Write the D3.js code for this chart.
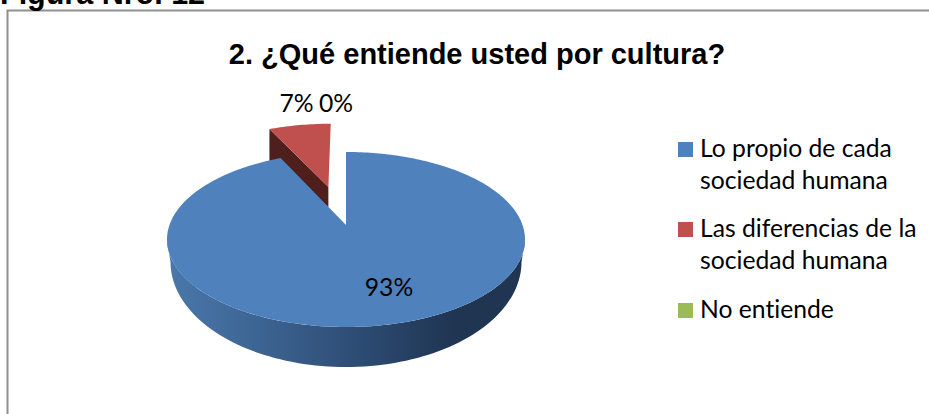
<!DOCTYPE html>
<html><head><meta charset="utf-8">
<script src="https://cdn.jsdelivr.net/npm/d3@7"></script>
<style>html,body{margin:0;padding:0;background:#fff;overflow:hidden}svg{display:block}text{font-variant-ligatures:none}</style>
</head><body><svg id="c" width="929" height="414"></svg>
<script>
const figureLabel = "Figura Nro. 12";
const chartTitle = "2. ¿Qué entiende usted por cultura?";
const categories = ["Lo propio de cada sociedad humana","Las diferencias de la sociedad humana","No entiende"];
const legendLines = [["Lo propio de cada","sociedad humana"],["Las diferencias de la","sociedad humana"],["No entiende"]];
const values = [93,7,0];
const sliceColors = ["#4f81bd","#c0504d","#9bbb59"];
const sliceExplode = [0,0.494,0.494];

const svg = d3.select("#c");
const defs = svg.append("defs");
const grad = defs.append("linearGradient").attr("id","side").attr("x1","0").attr("x2","1").attr("y1","0").attr("y2","0");
[[0,"#4a78ab"],[0.25,"#3d6593"],[0.5,"#2f4f78"],[0.8,"#1f3552"],[1,"#1f3552"]].forEach(s=>grad.append("stop").attr("offset",s[0]).attr("stop-color",s[1]));

// frame
svg.append("path").attr("d","M7.5,414V10.5H929").attr("fill","none").attr("stroke","#909090").attr("stroke-width",2);
svg.append("text").attr("x",0).attr("y",4).attr("font-family","Liberation Sans").attr("font-weight","bold").attr("font-size",30.5).attr("fill","#000").text(figureLabel);
svg.append("text").attr("x",477).attr("y",64).attr("text-anchor","middle").attr("font-family","Liberation Sans").attr("font-weight","bold").attr("font-size",29).attr("fill","#000").text(chartTitle);

// projection of the pie disk
const top3 = {cx:346,cy:239.5,rx:179,ry:87.5,t:0.166};
const low3 = {cx:346,cy:262,rx:175.5,ry:105};
const sc = Math.sqrt(1-top3.t*top3.t);
function proj(u,v){const d=1+top3.t*v;return [top3.cx+top3.rx*u*sc/d, top3.cy-top3.ry*(v+top3.t)/d];}
const pie = d3.pie().sort(null)(values);
const line = d3.line();

function faceOf(p,e){
  const mid=(p.startAngle+p.endAngle)/2, ou=e*Math.sin(mid), ov=e*Math.cos(mid);
  const n=Math.max(2,Math.ceil((p.endAngle-p.startAngle)/0.02));
  const pts=[proj(ou,ov)];
  d3.range(n+1).forEach(i=>{const a=p.startAngle+(p.endAngle-p.startAngle)*i/n;pts.push(proj(ou+Math.sin(a),ov+Math.cos(a)));});
  return pts;
}

// red slice: side then face
const redPts = faceOf(pie[1],sliceExplode[1]);
const apex = redPts[0], outer = redPts[1];
const innerDepth=20, outerDepth=38;
svg.append("path").attr("d",line([outer,apex,[apex[0],apex[1]+innerDepth],[outer[0],outer[1]+outerDepth]])+"Z").attr("fill","#4f1f1d");
svg.append("path").attr("d",line(redPts)+"Z").attr("fill",sliceColors[1]);

// blue side
const sideTop=d3.range(-90,91,2).map(d=>{const r=d*Math.PI/180;return [top3.cx+top3.rx*Math.sin(r),top3.cy+top3.ry*Math.cos(r)];});
const sideBot=d3.range(90,-91,-2).map(d=>{const r=d*Math.PI/180;return [low3.cx+low3.rx*Math.sin(r),low3.cy+low3.ry*Math.cos(r)];});
svg.append("path").attr("d",line(sideTop.concat(sideBot))+"Z").attr("fill","url(#side)");
svg.append("path").attr("d",line(faceOf(pie[0],sliceExplode[0]))+"Z").attr("fill",sliceColors[0]);

// data labels
const lf="Lato", fs=24.7;
const labelPos=[[389,296],[296.5,112],[336,112]];
pie.forEach((p,i)=>svg.append("text").attr("x",labelPos[i][0]).attr("y",labelPos[i][1]).attr("text-anchor","middle").attr("font-family",lf).attr("font-size",fs).attr("fill","#000").text(d3.format(".0%")(p.data/100)));

// legend
const ly=[157,237,318];
legendLines.forEach((ls,i)=>{
  svg.append("rect").attr("x",678).attr("y",ly[i]-15).attr("width",15).attr("height",15).attr("fill",sliceColors[i]);
  ls.forEach((s,j)=>svg.append("text").attr("x",700).attr("y",ly[i]+j*32).attr("font-family",lf).attr("font-size",fs).attr("fill","#000").text(s));
});
</script></body></html>
